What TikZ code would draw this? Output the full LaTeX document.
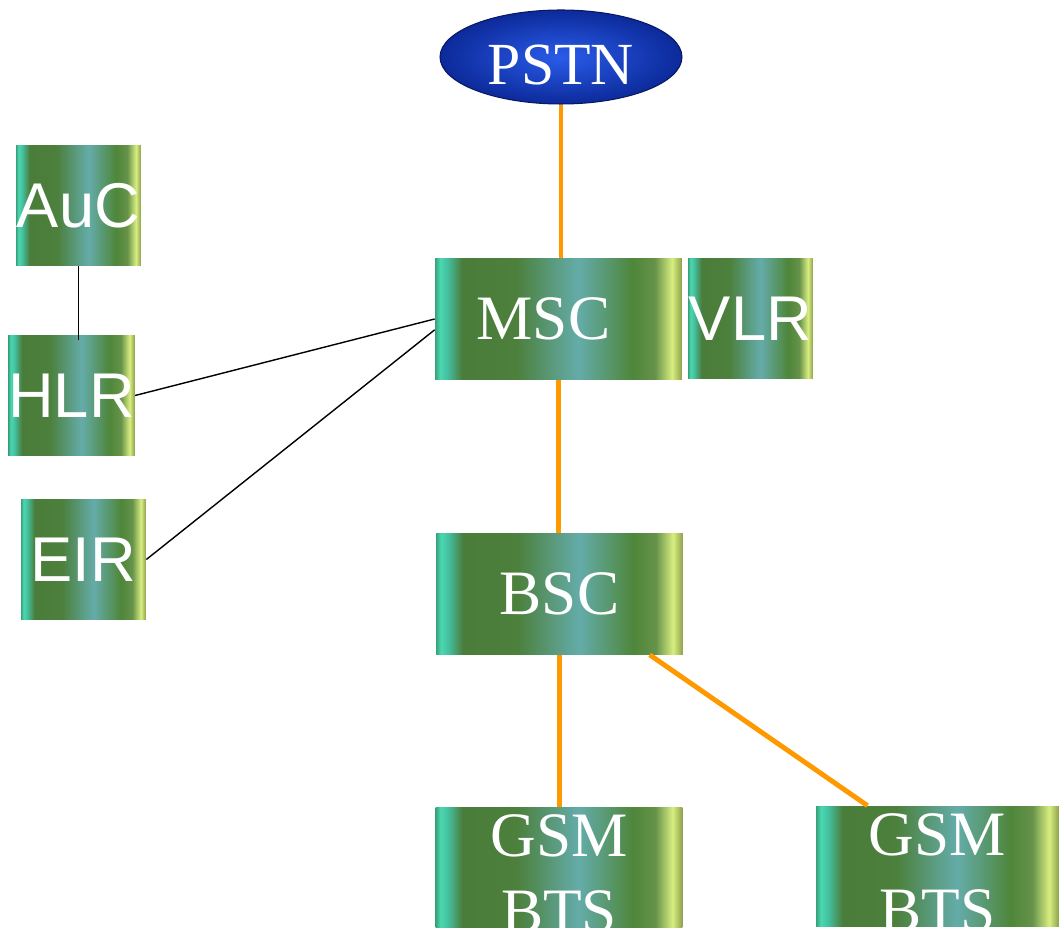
\documentclass[tikz,border=0pt]{standalone}
\usepackage{fontspec}
\setmainfont{Liberation Serif}
\setsansfont{Liberation Sans}
\usetikzlibrary{shapes.geometric, positioning}

\definecolor{linkorange}{HTML}{FF9900}
\definecolor{gmEdgeL}{HTML}{3AA07A}
\definecolor{gmCyan}{HTML}{4AD8B0}
\definecolor{gmMint}{HTML}{44C0A0}
\definecolor{gmDark}{HTML}{4A7C3A}
\definecolor{gmDarkB}{HTML}{4C803C}
\definecolor{gmTeal}{HTML}{64ACAA}
\definecolor{gmDarkR}{HTML}{4E863A}
\definecolor{gmOlive}{HTML}{66924A}
\definecolor{gmLime}{HTML}{D8EE80}
\definecolor{gmEdgeR}{HTML}{8CA04C}
\definecolor{pstnLight}{HTML}{2A5CEA}
\definecolor{pstnDark}{HTML}{0C2A9A}
\definecolor{pstnEdge}{HTML}{0A1860}

\pgfdeclarehorizontalshading{metalgreen}{100bp}{
    color(0bp)=(gmEdgeL); color(25bp)=(gmEdgeL); color(26bp)=(gmCyan);
    color(27.5bp)=(gmMint); color(30.5bp)=(gmDark); color(41.5bp)=(gmDarkB);
    color(54bp)=(gmTeal); color(65bp)=(gmDarkR); color(69.5bp)=(gmOlive);
    color(73bp)=(gmLime); color(75bp)=(gmEdgeR); color(100bp)=(gmEdgeR)}

\newcommand{\serifbig}{\rmfamily\fontsize{36}{43}\selectfont}
\newcommand{\sansbig}{\sffamily\fontsize{36}{43}\selectfont}
\newcommand{\twolines}[2]{\raisebox{-13pt}[0pt][0pt]{\begin{tabular}{@{}c@{}}#1\\#2\end{tabular}}}

\begin{document}
\begin{tikzpicture}[
    x=0.02cm, y=-0.02cm,
    box/.style={rectangle, shade, shading=metalgreen, inner sep=0pt,
        minimum width=4.94cm, minimum height=2.42cm, text=white, font=\serifbig},
    smallbox/.style={box, minimum width=2.5cm, font=\sansbig},
    cloud/.style={ellipse, draw=pstnEdge, line width=0.6pt, inner color=pstnLight,
        outer color=pstnDark, inner sep=0pt, minimum width=4.84cm, minimum height=1.88cm,
        text=white, font=\rmfamily\fontsize{34}{40}\selectfont, text height=32pt},
    trunk/.style={line width=2.8pt, draw=linkorange},
    wire/.style={line width=0.8pt, draw=black}
]
    \useasboundingbox (0,0) rectangle (1059,928);

    % core side
    \node[cloud] (pstn) at (561,57) {PSTN};
    \node[box] (msc) at (558.5,319) {\makebox[0pt]{\kern-17pt MSC}};
    \node[smallbox] (vlr) at (750.5,318.5) {VLR};
    \node[box] (bsc) at (559.5,594) {BSC};
    \node[box] (bts1) at (559,867.5) {\twolines{GSM}{BTS}};
    \node[box, minimum width=4.86cm] (bts2) at (937.5,866.5) {\twolines{GSM}{BTS}};

    % databases
    \node[smallbox] (auc) at (78.5,205.5) {AuC};
    \node[smallbox] (hlr) at (71.5,395.5) {HLR};
    \node[smallbox] (eir) at (83.5,559.5) {EIR};

    \path   (pstn.south) edge[trunk] (pstn.south |- msc.north)
            (msc.south) edge[trunk] (msc.south |- bsc.north)
            (bsc.south) edge[trunk] (bsc.south |- bts1.north)
            (bsc.-34.6) edge[trunk] (bts2.139.7);

    \path   (auc.south) edge[wire] ([yshift=-0.1cm]auc.south |- hlr.north)
            (hlr.east) edge[wire] (msc.west)
            (eir.east) edge[wire] (msc.185);

\end{tikzpicture}
\end{document}
